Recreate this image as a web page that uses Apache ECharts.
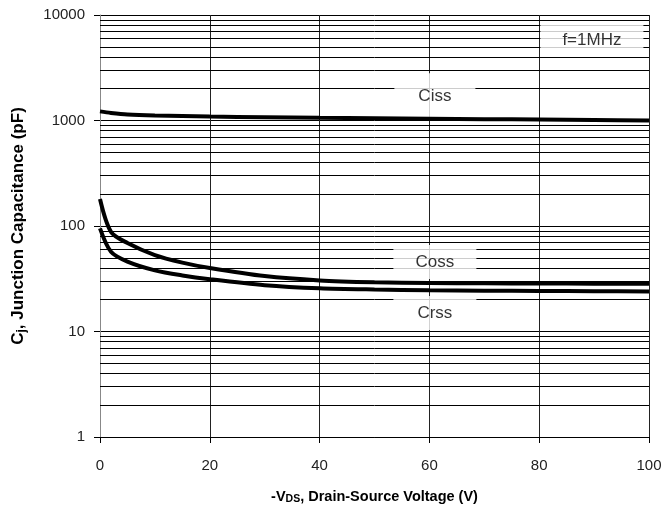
<!DOCTYPE html>
<html>
<head>
<meta charset="utf-8">
<script src="https://cdn.jsdelivr.net/npm/echarts@6/dist/echarts.min.js"></script>
<style>
  html, body { margin: 0; padding: 0; background: #fff; overflow: hidden; }
  #chart { width: 663px; height: 507px; }
</style>
</head>
<body>
<div id="chart"></div>
<script>
// Junction capacitance vs. drain-source voltage (f = 1 MHz)
const vdsCiss = [0, 2, 5, 10, 20, 30, 40, 50, 60, 70, 80, 90, 100];
const ciss    = [1220, 1180, 1140, 1115, 1090, 1075, 1060, 1050, 1040, 1030, 1020, 1010, 1000];

const vdsOut = [0, 2, 5, 10, 15, 20, 30, 40, 50, 60, 70, 80, 90, 100];
const coss   = [180, 88, 69, 53, 45, 40, 33.5, 30.5, 29.3, 28.8, 28.6, 28.5, 28.4, 28.3];
const crss   = [95, 57, 46, 38, 34, 31.3, 27.5, 25.7, 25, 24.6, 24.4, 24.2, 24.1, 24];

// Intermediate log-decade grid values (2..9 of each decade)
const minorGrid = [2, 3, 4, 5, 6, 7, 8, 9,
                   20, 30, 40, 50, 60, 70, 80, 90,
                   200, 300, 400, 500, 600, 700, 800, 900,
                   2000, 3000, 4000, 5000, 6000, 7000, 8000, 9000];

// Curve captions and the test condition, anchored in data space [V, pF]
const captionText = ['Ciss', 'Coss', 'Crss', 'f=1MHz'];
const captionAt   = [[61, 1700], [61, 45.6], [61, 15], [89.6, 5800]];
const captionBox  = [[81, 46], [83, 34], [83, 34], [103, 31]];

const xTicks = { min: 0, max: 100, interval: 20 };
const yTicks = { min: 1, max: 10000 };

const pair = (xs, ys) => xs.map((x, i) => [x, ys[i]]);
const narrowFont = "'Liberation Sans Narrow', 'Arial Narrow', 'Liberation Sans', Arial, sans-serif";
const plainFont = "'Liberation Sans', Arial, sans-serif";

const chart = echarts.init(document.getElementById('chart'));

const curveStyle = { color: '#000', width: 4 };

chart.setOption({
  animation: false,
  backgroundColor: '#fff',
  grid: { left: 100, right: 14, top: 15, bottom: 70, containLabel: false, outerBoundsMode: 'none' },
  xAxis: {
    type: 'value',
    min: xTicks.min, max: xTicks.max, interval: xTicks.interval,
    axisLine: { lineStyle: { color: '#000', width: 1 } },
    axisTick: { show: true, length: 6, lineStyle: { color: '#000' } },
    axisLabel: { color: '#222', fontSize: 15, fontFamily: plainFont, margin: 21 },
    splitLine: { show: true, lineStyle: { color: '#222', width: 1 } },
    name: '{a|-V}{s|DS}{a|, Drain-Source Voltage (V)}',
    nameLocation: 'middle',
    nameGap: 51,
    nameTextStyle: {
      rich: {
        a: { fontSize: 14.5, fontWeight: 'bold', color: '#000', fontFamily: narrowFont },
        s: { fontSize: 10.5, fontWeight: 'bold', color: '#000', fontFamily: narrowFont, padding: [6, 0, 0, 0] }
      }
    }
  },
  yAxis: {
    type: 'log',
    logBase: 10,
    min: yTicks.min, max: yTicks.max,
    axisLine: { show: true, lineStyle: { color: '#888', width: 1 } },
    axisTick: { show: true, length: 6, lineStyle: { color: '#000' } },
    axisLabel: { color: '#222', fontSize: 15, fontFamily: plainFont, margin: 15,
                 formatter: v => String(Math.round(v)) },
    splitLine: { show: true, lineStyle: { color: '#000', width: 1 } },
    name: '{a|C}{s|j}{a|, Junction Capacitance (pF)}',
    nameLocation: 'middle',
    nameGap: 72,
    nameRotate: 90,
    nameTextStyle: {
      rich: {
        a: { fontSize: 17, fontWeight: 'bold', color: '#000', fontFamily: plainFont },
        s: { fontSize: 12, fontWeight: 'bold', color: '#000', fontFamily: plainFont, padding: [7, 0, 0, 0] }
      }
    }
  },
  series: [
    {
      // minor horizontal grid lines
      type: 'line',
      data: [],
      silent: true,
      z: 1,
      markLine: {
        silent: true,
        symbol: ['none', 'none'],
        label: { show: false },
        lineStyle: { color: '#000', width: 1, type: 'solid' },
        animation: false,
        data: minorGrid.map(v => ({ yAxis: v }))
      }
    },
    {
      // captions with white boxes that mask the grid
      type: 'scatter',
      symbolSize: 0,
      silent: true,
      z: 5,
      data: captionAt.map((p, i) => ({
        value: p,
        label: {
          show: true,
          position: 'inside',
          formatter: captionText[i],
          color: '#000',
          fontSize: 17,
          fontFamily: narrowFont,
          backgroundColor: '#fff',
          width: captionBox[i][0],
          height: captionBox[i][1],
          lineHeight: captionBox[i][1],
          align: 'center',
          verticalAlign: 'middle'
        }
      }))
    },
    {
      name: 'Ciss', type: 'line', z: 10,
      data: pair(vdsCiss, ciss),
      smooth: 0.3, showSymbol: false, lineStyle: curveStyle
    },
    {
      name: 'Coss', type: 'line', z: 10,
      data: pair(vdsOut, coss),
      smooth: 0.3, showSymbol: false, lineStyle: curveStyle
    },
    {
      name: 'Crss', type: 'line', z: 10,
      data: pair(vdsOut, crss),
      smooth: 0.3, showSymbol: false, lineStyle: curveStyle
    }
  ]
});
</script>
</body>
</html>
